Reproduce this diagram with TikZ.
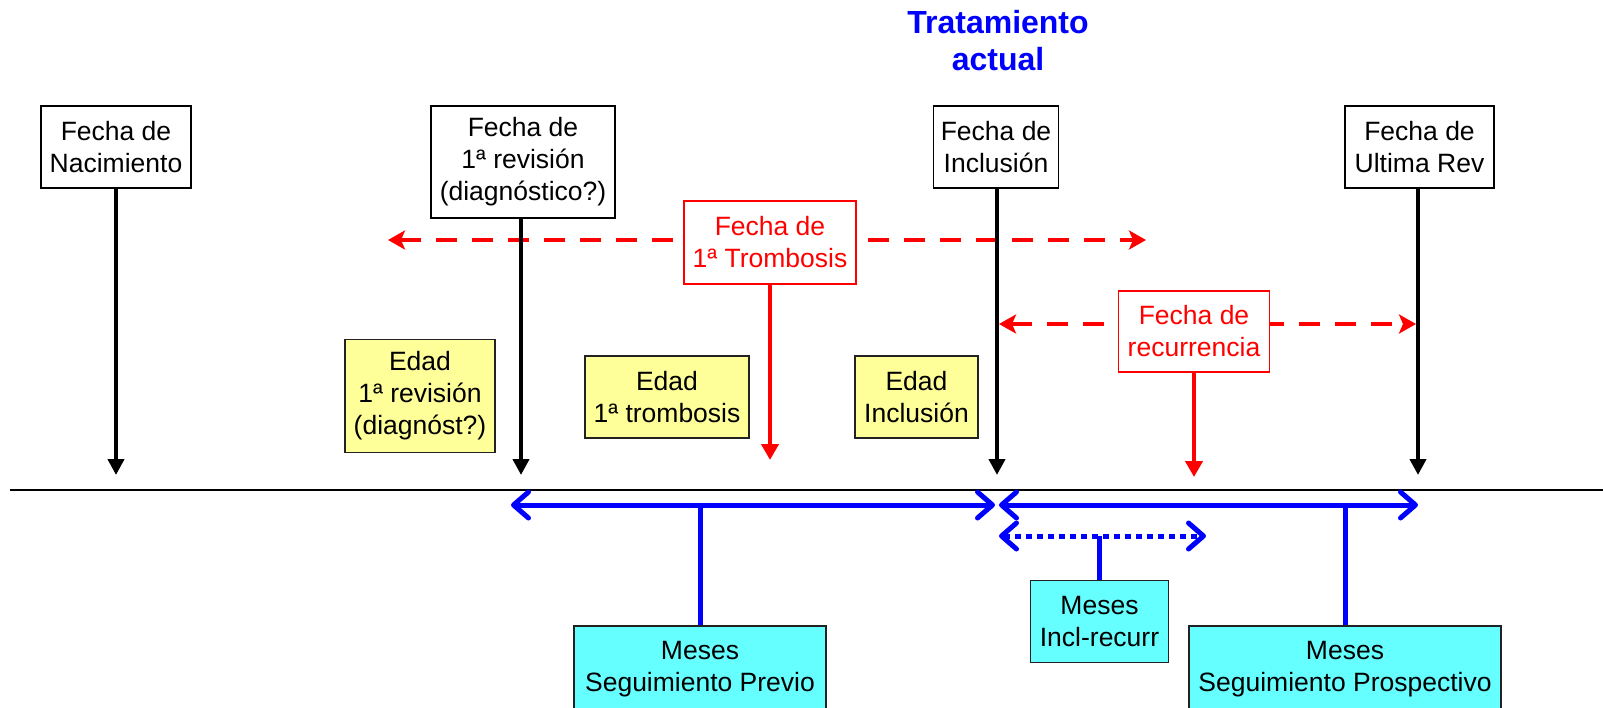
\documentclass[tikz,border=0pt]{standalone}
\usepackage{fontspec}
\setmainfont{Liberation Sans}
\usetikzlibrary{arrows.meta}
\definecolor{yel}{HTML}{FFFF99}
\definecolor{cy}{HTML}{66FFFF}
\definecolor{bord}{HTML}{222222}
\begin{document}
\begin{tikzpicture}[x=1pt,y=-1pt,
  every node/.style={font=\fontsize{26.5}{32}\selectfont, align=center, inner sep=0pt},
  bbox/.style={draw=black, line width=1.8pt, fill=white},
  rbox/.style={draw=red, line width=1.8pt, fill=white, text=red},
  ybox/.style={draw=bord, line width=1.5pt, fill=yel},
  cbox/.style={draw=bord, line width=1.5pt, fill=cy},
  blk/.style={draw=black, line width=4pt, -{Triangle[width=16pt,length=16pt]}},
  rarr/.style={draw=red, line width=4.5pt, -{Triangle[width=17pt,length=16pt]}},
  rdash/.style={draw=red, line width=4.5pt, dash pattern=on 21pt off 15pt,
     {Stealth[width=19pt,length=17pt,inset=4pt]}-{Stealth[width=19pt,length=17pt,inset=4pt]}},
  barrow/.style={draw=blue, line width=5pt,
     {Straight Barb[width=26pt,length=15pt,line cap=round,line join=round]}-{Straight Barb[width=26pt,length=15pt,line cap=round,line join=round]}},
  bdot/.style={draw=blue, line width=5pt, dash pattern=on 6pt off 5pt,
     {Straight Barb[width=26pt,length=15pt,line cap=round,line join=round]}-{Straight Barb[width=26pt,length=15pt,line cap=round,line join=round]}},
  bline/.style={draw=blue, line width=5pt},
]
\useasboundingbox (0,0) rectangle (1603,707);

% title
\node[text=blue, font=\fontsize{32}{37}\selectfont\bfseries] (title) at (998,41) {Tratamiento\\actual};

% timeline
\coordinate (tlL) at (10,490);
\coordinate (tlR) at (1603,490);
\draw[line width=2pt] (tlL) -- (tlR);

% key x positions
\coordinate (tNac) at (116,475);
\coordinate (tRev) at (521,475);
\coordinate (tInc) at (997,475);
\coordinate (tUlt) at (1418,475);

% red dashed lines (behind)
\coordinate (r1L) at (388,240);
\coordinate (r1R) at (1146,240);
\draw[rdash] (r1L) -- (r1R);
\coordinate (r2L) at (999,324);
\coordinate (r2R) at (1416,324);
\draw[rdash] (r2L) -- (r2R);

% top boxes
\node[bbox, minimum width=150pt, minimum height=82pt] (nac) at (116,147) {Fecha de\\Nacimiento};
\node[bbox, minimum width=184pt, minimum height=112pt] (rev) at (523,162) {Fecha de\\1ª revisión\\(diagnóstico?)};
\node[bbox, minimum width=125pt, minimum height=82pt] (inc) at (996,147) {Fecha de\\Inclusión};
\node[bbox, minimum width=149pt, minimum height=82pt] (ult) at (1419.5,147) {Fecha de\\Ultima Rev};

% black arrows
\draw[blk] (nac.south -| tNac) -- (tNac);
\draw[blk] (rev.south -| tRev) -- (tRev);
\draw[blk] (inc.south -| tInc) -- (tInc);
\draw[blk] (ult.south -| tUlt) -- (tUlt);

% red boxes
\node[rbox, minimum width=172pt, minimum height=83pt] (tro) at (770,242.5) {Fecha de\\1ª Trombosis};
\node[rbox, minimum width=151pt, minimum height=81pt] (rec) at (1194,331.5) {Fecha de\\recurrencia};
\coordinate (tTro) at (770,460);
\coordinate (tRec) at (1194,477);
\draw[rarr] (tro.south) -- (tTro);
\draw[rarr] (rec.south) -- (tRec);

% yellow boxes
\node[ybox, minimum width=150pt, minimum height=113pt] (y1) at (420,396) {Edad\\1ª revisión\\(diagnóst?)};
\node[ybox, minimum width=164pt, minimum height=82pt] (y2) at (667,397) {Edad\\1ª trombosis};
\node[ybox, minimum width=123pt, minimum height=82pt] (y3) at (916.5,397) {Edad\\Inclusión};

% blue arrows
\coordinate (b1L) at (511,505);
\coordinate (b1R) at (995,505);
\coordinate (b2L) at (999,505);
\coordinate (b2R) at (1418,505);
\coordinate (b3L) at (999,536);
\coordinate (b3R) at (1206,536);
\draw[barrow] (b1L) -- (b1R);
\draw[barrow] (b2L) -- (b2R);
\draw[bdot] (b3L) -- (b3R);

% cyan boxes
\node[cbox, minimum width=252pt, minimum height=86pt] (c1) at (700,669) {Meses\\Seguimiento Previo};
\node[cbox, minimum width=138pt, minimum height=82pt] (c2) at (1099.5,621.5) {Meses\\Incl-recurr};
\node[cbox, minimum width=312pt, minimum height=86pt] (c3) at (1345,669) {Meses\\Seguimiento Prospectivo};

\draw[bline] (c1.north |- b1L) -- (c1.north);
\draw[bline] (c2.north |- b3L) -- (c2.north);
\draw[bline] (c3.north |- b2L) -- (c3.north);
\end{tikzpicture}
\end{document}
